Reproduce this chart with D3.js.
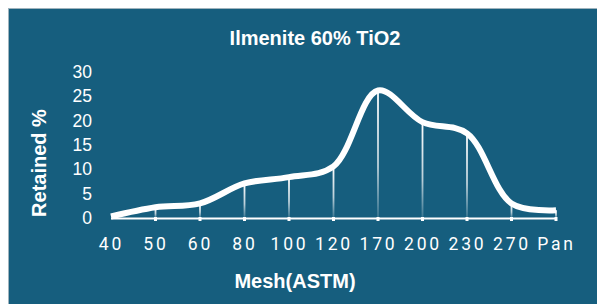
<!DOCTYPE html>
<html>
<head>
<meta charset="utf-8">
<script src="https://cdn.jsdelivr.net/npm/d3@7"></script>
<style>
  body { margin: 0; background: #ffffff; }
  text { font-family: "Liberation Sans", Arial, sans-serif; fill: #ffffff; }
</style>
</head>
<body>
<div id="chart"></div>
<script>
// data
var meshLabels = ["40", "50", "60", "80", "100", "120", "170", "200", "230", "270", "Pan"];
var retained = [0.3, 2.2, 3.0, 7.1, 8.4, 10.6, 26.2, 19.7, 17.4, 3.0, 1.6];
var yTicks = [0, 5, 10, 15, 20, 25, 30];

var svgWidth = 597, svgHeight = 304;
var bg = "#165e7e";

var svg = d3.select("#chart").append("svg")
  .attr("width", svgWidth)
  .attr("height", svgHeight);

// panel
svg.append("rect")
  .attr("x", 8.5).attr("y", 8.5)
  .attr("width", 600).attr("height", 310)
  .attr("fill", bg)
  .attr("stroke", "#9fb3bd")
  .attr("stroke-width", 1);

var defs = svg.append("defs");
var grad = defs.append("linearGradient")
  .attr("id", "dropGrad")
  .attr("x1", 0).attr("y1", 0).attr("x2", 0).attr("y2", 1);
grad.append("stop").attr("offset", "0%").attr("stop-color", "#ffffff").attr("stop-opacity", 1);
grad.append("stop").attr("offset", "60%").attr("stop-color", "#ffffff").attr("stop-opacity", 0.7);
grad.append("stop").attr("offset", "100%").attr("stop-color", "#ffffff").attr("stop-opacity", 0.15);

var x = d3.scalePoint()
  .domain(meshLabels)
  .range([111, 556]);

var y = d3.scaleLinear()
  .domain([0, 30])
  .range([218, 72]);

var data = meshLabels.map(function(m, i) { return { mesh: m, value: retained[i] }; });

// title
svg.append("text")
  .attr("x", 315).attr("y", 45)
  .attr("text-anchor", "middle")
  .style("font-size", "20px")
  .style("font-weight", "bold")
  .text("Ilmenite 60% TiO2");

// y axis labels
var yAxis = svg.append("g")
  .attr("transform", "translate(92,0)")
  .call(d3.axisLeft(y).tickValues(yTicks).tickSize(0).tickPadding(0));
yAxis.select(".domain").remove();
yAxis.selectAll("text")
  .attr("fill", "#ffffff")
  .style("font-family", "'Liberation Sans', Arial, sans-serif")
  .style("font-size", "17.5px");

// drop lines
svg.selectAll(".drop")
  .data(data.slice(1))
  .enter()
  .append("rect")
  .attr("class", "drop")
  .attr("x", d => x(d.mesh) - 0.9)
  .attr("y", d => y(d.value))
  .attr("width", 1.8)
  .attr("height", d => y(0) - y(d.value))
  .attr("fill", "url(#dropGrad)");

// baseline and ticks
svg.append("line")
  .attr("x1", x("40")).attr("x2", x("Pan"))
  .attr("y1", y(0) + 0.5).attr("y2", y(0) + 0.5)
  .attr("stroke", "#ffffff")
  .attr("stroke-width", 2);

svg.selectAll(".tk")
  .data(meshLabels.slice(1))
  .enter()
  .append("rect")
  .attr("class", "tk")
  .attr("x", d => x(d) - 1.5)
  .attr("y", y(0) - 1)
  .attr("width", 3)
  .attr("height", 4)
  .attr("fill", "#ffffff");

// x labels
var xAxis = svg.append("g")
  .attr("transform", "translate(0,233)")
  .call(d3.axisBottom(x).tickSize(0).tickPadding(0));
xAxis.select(".domain").remove();
xAxis.selectAll("text")
  .attr("fill", "#ffffff")
  .attr("dy", "0")
  .attr("y", 17)
  .style("font-family", "Roboto, 'DejaVu Sans', sans-serif")
  .style("font-size", "17.5px")
  .style("letter-spacing", "2.8px");

// curve
var line = d3.line()
  .x(d => x(d.mesh))
  .y(d => y(d.value))
  .curve(d3.curveCatmullRom.alpha(0.5));

svg.append("path")
  .datum(data)
  .attr("d", line)
  .attr("fill", "none")
  .attr("stroke", "#ffffff")
  .attr("stroke-width", 6)
  .attr("stroke-linejoin", "round");

// axis titles
svg.append("text")
  .attr("transform", "translate(46,163) rotate(-90)")
  .attr("text-anchor", "middle")
  .style("font-size", "20px")
  .style("font-weight", "bold")
  .text("Retained %");

svg.append("text")
  .attr("x", 295).attr("y", 288)
  .attr("text-anchor", "middle")
  .style("font-size", "20px")
  .style("font-weight", "bold")
  .text("Mesh(ASTM)");
</script>
</body>
</html>
